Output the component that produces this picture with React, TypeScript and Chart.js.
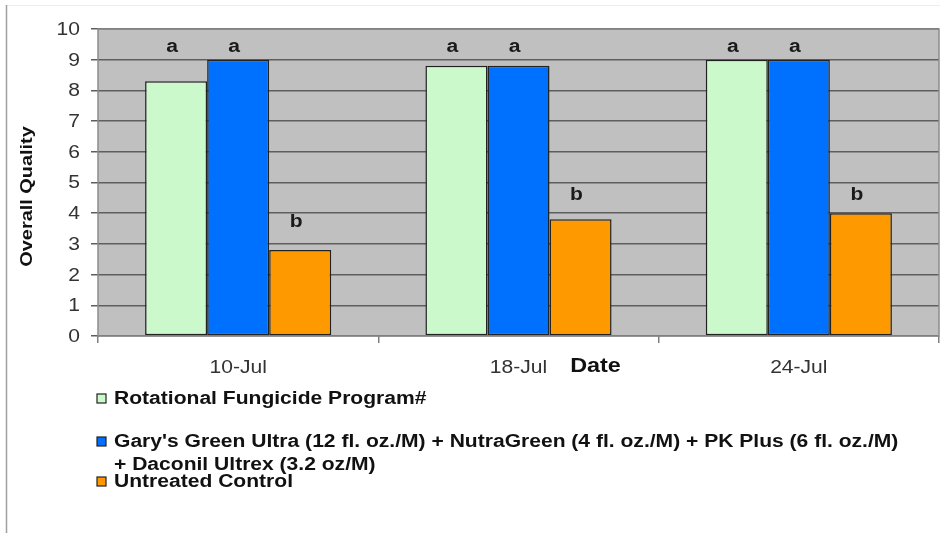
import React, { useEffect, useRef } from "react";
import { Chart, registerables } from "chart.js";

Chart.register(...registerables);

// Rating dates and treatment results
const dates = ["10-Jul", "18-Jul", "24-Jul"];
const seriesNames = [
  "Rotational Fungicide Program#",
  "Gary's Green Ultra (12 fl. oz./M) + NutraGreen (4 fl. oz./M) + PK Plus (6 fl. oz./M)\n+ Daconil Ultrex (3.2 oz/M)",
  "Untreated Control",
];
const rotational = [8.3, 8.8, 9.0];
const garysGreen = [9.0, 8.8, 9.0];
const untreated = [2.8, 3.8, 4.0];
// Mean-separation letters per series, one per date
const rotationalLetters = ["a", "a", "a"];
const garysLetters = ["a", "a", "a"];
const untreatedLetters = ["b", "b", "b"];
// Height (in rating units) at which each series' letters sit
const rotationalLetterLevel = [9.4, 9.4, 9.4];
const garysLetterLevel = [9.4, 9.4, 9.4];
const untreatedLetterLevel = [3.7, 4.6, 4.6];
const yTicks = [0, 1, 2, 3, 4, 5, 6, 7, 8, 9, 10];

const colors = ["#ccf9cc", "#0070ff", "#ff9900"];
const FONT = "'Liberation Sans', Arial, sans-serif";
const SX = 1.17; // horizontal stretch of all chart lettering

function stretchedText(
  ctx: CanvasRenderingContext2D,
  text: string,
  x: number,
  y: number,
  align: CanvasTextAlign,
  rotate = false
) {
  ctx.save();
  ctx.translate(x, y);
  if (rotate) ctx.rotate(-Math.PI / 2);
  ctx.scale(SX, 1);
  ctx.textAlign = align;
  ctx.fillText(text, 0, 0);
  ctx.restore();
}

const decorations = {
  id: "decorations",
  beforeDraw(chart: any) {
    const { ctx, chartArea: a } = chart;
    ctx.save();
    // page frame
    ctx.strokeStyle = "#ededed";
    ctx.lineWidth = 1;
    ctx.beginPath();
    ctx.moveTo(6, 5.5);
    ctx.lineTo(940, 5.5);
    ctx.stroke();
    ctx.strokeStyle = "#a0a0a0";
    ctx.lineWidth = 1.5;
    ctx.beginPath();
    ctx.moveTo(6.5, 5);
    ctx.lineTo(6.5, 533);
    ctx.stroke();
    // plot background
    ctx.fillStyle = "#c0c0c0";
    ctx.fillRect(a.left, a.top, a.right - a.left, a.bottom - a.top);
    ctx.restore();
  },
  afterDatasetsDraw(chart: any) {
    const { ctx, chartArea: a } = chart;
    const xScale = chart.scales.x;
    const yScale = chart.scales.y;
    ctx.save();
    // plot border
    ctx.strokeStyle = "#8c8c8c";
    ctx.lineWidth = 1.5;
    ctx.strokeRect(a.left, a.top, a.right - a.left, a.bottom - a.top);

    ctx.textBaseline = "middle";

    // tick labels
    ctx.fillStyle = "#333";
    ctx.font = `18px ${FONT}`;
    yScale.ticks.forEach((t: any) => {
      stretchedText(ctx, String(t.value), a.left - 18, yScale.getPixelForValue(t.value) + 1, "right");
    });
    chart.data.labels.forEach((lab: string, i: number) => {
      stretchedText(ctx, lab, xScale.getPixelForValue(i), 368, "center");
    });

    // significance letters
    const letterSets = [rotationalLetters, garysLetters, untreatedLetters];
    const levelSets = [rotationalLetterLevel, garysLetterLevel, untreatedLetterLevel];
    ctx.fillStyle = "#1a1a1a";
    ctx.font = `bold 18px ${FONT}`;
    letterSets.forEach((letters, di) => {
      const meta = chart.getDatasetMeta(di);
      meta.data.forEach((bar: any, i: number) => {
        stretchedText(ctx, letters[i], bar.x - 4, yScale.getPixelForValue(levelSets[di][i]), "center");
      });
    });

    // axis titles
    ctx.fillStyle = "#111";
    ctx.font = `bold 20px ${FONT}`;
    stretchedText(ctx, "Date", (a.left + a.right) / 2 + 77, 366, "center");
    ctx.font = `bold 17px ${FONT}`;
    stretchedText(ctx, "Overall Quality", 27, (a.top + a.bottom) / 2 + 14, "center", true);

    // legend
    const rows = [399, 442, 482];
    ctx.font = `bold 18px ${FONT}`;
    chart.data.datasets.forEach((ds: any, i: number) => {
      const y = rows[i];
      ctx.fillStyle = colors[i];
      ctx.fillRect(97, y - 5, 9, 9);
      ctx.strokeStyle = "#222";
      ctx.lineWidth = 1.2;
      ctx.strokeRect(97, y - 5, 9, 9);
      ctx.fillStyle = "#111";
      const lines = String(ds.label).split("\n");
      lines.forEach((ln, k) => stretchedText(ctx, ln, 114, y + k * 23, "left"));
    });
    ctx.restore();
  },
};

export default function App() {
  const ref = useRef<HTMLCanvasElement>(null);
  useEffect(() => {
    if (!ref.current) return;
    const chart = new Chart(ref.current, {
      type: "bar",
      data: {
        labels: dates,
        datasets: [rotational, garysGreen, untreated].map((d, i) => ({
          label: seriesNames[i],
          data: d,
          backgroundColor: colors[i],
          borderColor: "#222",
          borderWidth: 1.5,
          borderSkipped: false,
          categoryPercentage: 0.664,
          barPercentage: 1,
        })),
      },
      options: {
        animation: false,
        responsive: true,
        maintainAspectRatio: false,
        layout: { padding: { left: 0, top: 29, right: 5, bottom: 0 } },
        plugins: { legend: { display: false }, tooltip: { enabled: false } },
        scales: {
          x: {
            offset: true,
            grid: {
              offset: true,
              drawOnChartArea: false,
              drawTicks: true,
              tickLength: 7,
              color: "#808080",
              lineWidth: 1.5,
            },
            border: { display: false },
            ticks: { display: false },
            afterFit: (s: any) => {
              s.height = 206;
            },
          },
          y: {
            min: 0,
            max: 10,
            afterBuildTicks: (s: any) => {
              s.ticks = yTicks.map((v) => ({ value: v }));
            },
            grid: { color: "#5e5e5e", lineWidth: 1.5, tickLength: 7 },
            border: { display: false },
            ticks: { display: false },
            afterFit: (s: any) => {
              s.width = 98;
            },
          },
        },
      },
      plugins: [decorations],
    });
    return () => chart.destroy();
  }, []);
  return (
    <div style={{ position: "fixed", left: 0, top: 0, width: 944, height: 542, background: "#fff" }}>
      <canvas ref={ref} />
    </div>
  );
}
